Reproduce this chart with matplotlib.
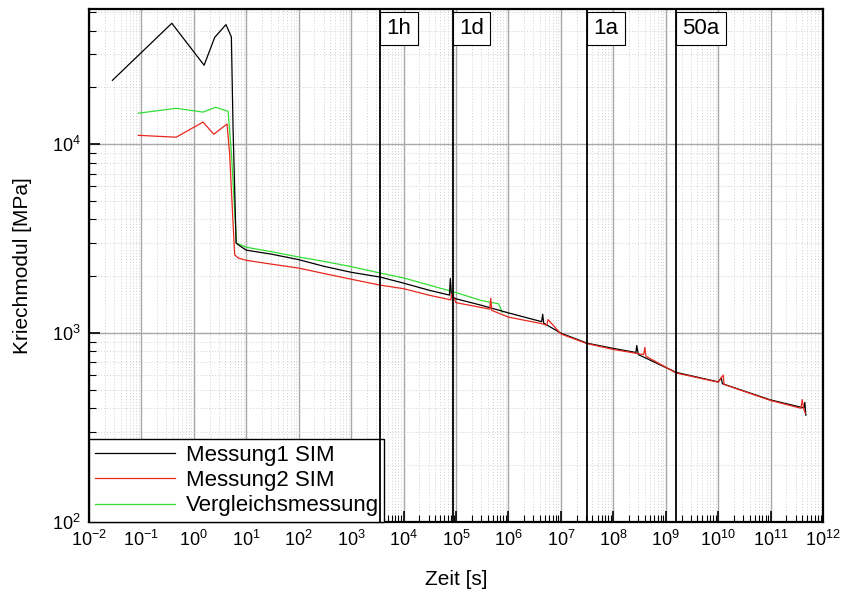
import numpy as np
import matplotlib.pyplot as plt
from matplotlib.ticker import LogLocator, NullFormatter

plt.rcParams['font.family'] = ['Liberation Sans', 'DejaVu Sans']

# Messung1 SIM (schwarz)
t_m1 = [0.028, 0.38, 1.57, 2.5, 4.1, 5.2, 5.6, 6.4, 7.5, 10, 30, 100, 300, 1000, 3600, 1e4, 3e4,
        7.5e4, 7.8e4, 8.2e4, 1e5, 3e5, 1e6, 4.3e6, 4.5e6, 4.7e6, 1e7, 3.16e7, 1e8, 2.7e8, 2.8e8,
        3.0e8, 1.58e9, 1e10, 1.15e10, 1.2e10, 1e11, 4.3e11, 4.5e11, 4.7e11]
E_m1 = [21800, 43700, 26200, 36800, 43000, 37000, 12000, 3000, 2900, 2750, 2620, 2450, 2260, 2100, 1980, 1840, 1690,
        1590, 1950, 1560, 1520, 1406, 1280, 1150, 1260, 1130, 1000, 885, 830, 790, 860,
        770, 620, 552, 580, 540, 443, 402, 430, 368]

# Messung2 SIM (rot)
t_m2 = [0.087, 0.46, 1.5, 2.4, 4.3, 4.8, 6.0, 7, 10, 30, 100, 300, 1000, 3600, 1e4, 3e4, 8e4,
        8.3e4, 1e5, 3e5, 4.4e5, 4.6e5, 4.8e5, 1e6, 4.5e6, 5.4e6, 5.7e6, 1e7, 3.16e7, 1e8, 3.8e8,
        4.0e8, 4.2e8, 1.58e9, 1e10, 1.25e10, 1.3e10, 1e11, 3.8e11, 4.0e11, 4.3e11, 4.6e11]
E_m2 = [11150, 10900, 13100, 11300, 12800, 9000, 2600, 2500, 2430, 2320, 2210, 2070, 1930, 1795, 1720, 1590, 1500,
        1620, 1450, 1368, 1340, 1530, 1320, 1216, 1120, 1100, 1180, 990, 880, 820, 770,
        840, 755, 615, 550, 600, 535, 440, 400, 445, 395, 377]

# Vergleichsmessung (gruen)
t_v = [0.087, 0.46, 1.5, 2.6, 4.5, 5.2, 6.5, 10, 30, 100, 300, 1000, 3600, 1e4, 3e4, 1e5,
       3e5, 6.5e5, 7.6e5]
E_v = [14600, 15500, 14800, 15700, 14950, 9000, 3000, 2850, 2700, 2530, 2400, 2250, 2080, 1960, 1800, 1640,
       1490, 1430, 1290]

# Zeitmarken
mark_t = [3600, 86400, 3.156e7, 1.578e9]
mark_lbl = ['1h', '1d', '1a', '50a']

fig = plt.figure(figsize=(8.45, 6.01), dpi=100)
ax = fig.add_axes([0.1053, 0.1314, 0.8687, 0.8536])

ax.plot(t_m1, E_m1, color='black', lw=0.9, label='Messung1 SIM', zorder=4)
ax.plot(t_m2, E_m2, color='#e8281e', lw=0.9, label='Messung2 SIM', zorder=5)
ax.plot(t_v, E_v, color='#33dd33', lw=0.9, label='Vergleichsmessung', zorder=3)

ax.set_xscale('log')
ax.set_yscale('log')
ax.set_xlim(1e-2, 1e12)
ax.set_ylim(1e2, 5.2e4)

ax.xaxis.set_major_locator(LogLocator(base=10, numticks=20))
ax.xaxis.set_minor_locator(LogLocator(base=10, subs=np.arange(2, 10), numticks=200))
ax.xaxis.set_minor_formatter(NullFormatter())
ax.yaxis.set_minor_formatter(NullFormatter())

ax.grid(True, which='major', color='#a8a8a8', lw=1.0, ls='-')
ax.grid(True, which='minor', color='#d0d0d0', lw=0.7, ls=(0, (1, 2)))
ax.set_axisbelow(True)

ax.tick_params(which='major', direction='in', length=8, width=1.2, labelsize=13, pad=6)
ax.tick_params(which='minor', direction='in', length=5, width=0.8)
for s in ax.spines.values():
    s.set_linewidth(1.6)

for t, lbl in zip(mark_t, mark_lbl):
    ax.axvline(t, color='black', lw=1.3, zorder=6)
    ax.annotate(lbl, xy=(t, 4.1e4), xytext=(4.5, 0), textcoords='offset points',
                fontsize=16, ha='left', va='center', zorder=7,
                bbox=dict(boxstyle='square,pad=0.28', fc='white', ec='black', lw=0.8))

ax.set_xlabel('Zeit [s]', fontsize=15, labelpad=14)
ax.set_ylabel('Kriechmodul [MPa]', fontsize=15, labelpad=14)

leg = ax.legend(loc='lower left', fontsize=16, fancybox=False, framealpha=1,
                edgecolor='black', borderaxespad=0, handlelength=3.6,
                borderpad=0.25, labelspacing=0.2, handletextpad=0.5)
leg.get_frame().set_linewidth(1.0)

fig.savefig('out.png', dpi=100)
